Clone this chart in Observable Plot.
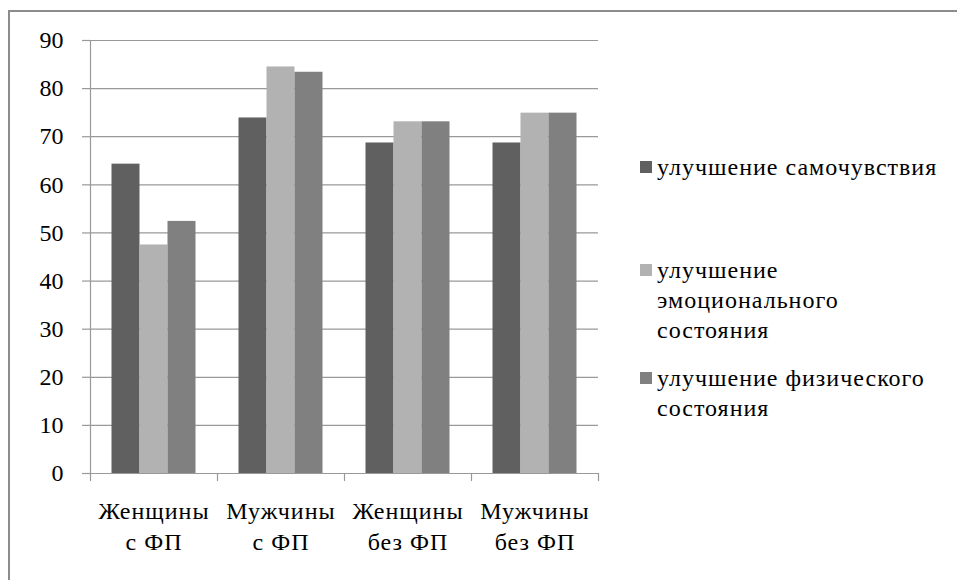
<!DOCTYPE html>
<html>
<head>
<meta charset="utf-8">
<script src="https://cdn.jsdelivr.net/npm/d3@7"></script>
<script src="https://cdn.jsdelivr.net/npm/@observablehq/plot@0.6"></script>
<style>
  html, body { margin: 0; padding: 0; background: #fff; overflow: hidden; }
  #wrap { position: relative; width: 957px; height: 580px; overflow: hidden; }
  #frame { position: absolute; left: 8px; top: 10px; width: 1200px; height: 800px;
           border-left: 2px solid #8c8c8c; border-top: 2px solid #8c8c8c; pointer-events: none; }
  #chart { position: absolute; left: 0; top: 0; }
  #chart svg, #chart svg text { font-family: "Liberation Serif", "Times New Roman", Times, "DejaVu Serif", serif !important; }
  #chart g[aria-label="x-axis tick label"] text { letter-spacing: 1px; }
  .leg { position: absolute; left: 640px; font-family: "Liberation Serif", "Times New Roman", Times, "DejaVu Serif", serif; font-size: 24px;
         line-height: 30px; color: #000; letter-spacing: 1px; }
  .leg .sw { position: absolute; left: 0; top: 9px; width: 12px; height: 12px; }
  .leg .tx { margin-left: 17px; white-space: nowrap; }
</style>
</head>
<body>
<div id="wrap">
  <div id="chart"></div>
  <div id="legendBox"></div>
  <div id="frame"></div>
</div>
<script>
// ---- data ----
const categories = ["Женщины\nс ФП", "Мужчины\nс ФП", "Женщины\nбез ФП", "Мужчины\nбез ФП"];
const seriesNames = ["улучшение самочувствия", "улучшение эмоционального состояния", "улучшение физического состояния"];
const legendLines = [["улучшение самочувствия"], ["улучшение", "эмоционального", "состояния"], ["улучшение физического", "состояния"]];
const wellbeing = [64.3, 73.9, 68.7, 68.7];
const emotional = [47.5, 84.5, 73.1, 74.9];
const physical  = [52.4, 83.4, 73.1, 74.9];
const yTicks = [0, 10, 20, 30, 40, 50, 60, 70, 80, 90];
const colors = ["#606060", "#b2b2b2", "#808080"];

// ---- layout ----
const W = 957, H = 580;
const mL = 90, mR = 359, mT = 40, mB = 107;
const bw = (W - mL - mR) / categories.length;   // band width
const barW = 28;
const outer = (bw - barW * 3) / 2;
const series = [wellbeing, emotional, physical];
const grid = "#999999";
const serif = "'Liberation Serif', 'Times New Roman', Times, 'DejaVu Serif', serif";

const barMarks = series.map((vals, i) =>
  Plot.barY(categories, {
    x: d => d,
    y: (d, j) => vals[j],
    fill: colors[i],
    insetLeft: outer + barW * i,
    insetRight: bw - outer - barW * (i + 1)
  })
);

const plot = Plot.plot({
  width: W,
  height: H,
  marginLeft: mL,
  marginRight: mR,
  marginTop: mT,
  marginBottom: mB,
  style: { fontFamily: serif, fontSize: "24px", color: "#000", background: "transparent" },
  x: { domain: categories, padding: 0 },
  y: { domain: [yTicks[0], yTicks[yTicks.length - 1]] },
  marks: [
    Plot.gridY(yTicks, { stroke: grid, strokeOpacity: 1, strokeWidth: 1.2 }),
    ...barMarks,
    Plot.ruleY([yTicks[0]], { stroke: grid, strokeWidth: 1.2 }),
    Plot.ruleX([categories[0]], { dx: -bw / 2, y1: yTicks[0], y2: yTicks[yTicks.length - 1], stroke: grid, strokeWidth: 1.2 }),
    Plot.axisY({ ticks: yTicks, tickSize: 8, tickPadding: 19, stroke: grid, strokeWidth: 1.2, label: null, fill: "#000", fontFamily: serif }),
    Plot.axisX({ tickSize: 8, text: null, dx: -bw / 2, stroke: grid, strokeWidth: 1.2, label: null }),
    Plot.axisX({ ticks: [categories[categories.length - 1]], tickSize: 8, text: null, dx: bw / 2, stroke: grid, strokeWidth: 1.2, label: null }),
    Plot.axisX({ tickSize: 0, tickPadding: 24, lineHeight: 1.28, label: null, fill: "#000", fontFamily: serif })
  ]
});
document.getElementById("chart").appendChild(plot);

// ---- legend ----
const legTops = [152, 255, 363];
const box = document.getElementById("legendBox");
seriesNames.forEach((name, i) => {
  const item = document.createElement("div");
  item.className = "leg";
  item.style.top = legTops[i] + "px";
  const sw = document.createElement("div");
  sw.className = "sw";
  sw.style.background = colors[i];
  const tx = document.createElement("div");
  tx.className = "tx";
  tx.title = name;
  legendLines[i].forEach(line => {
    const l = document.createElement("div");
    l.textContent = line;
    tx.appendChild(l);
  });
  item.appendChild(sw);
  item.appendChild(tx);
  box.appendChild(item);
});
</script>
</body>
</html>
